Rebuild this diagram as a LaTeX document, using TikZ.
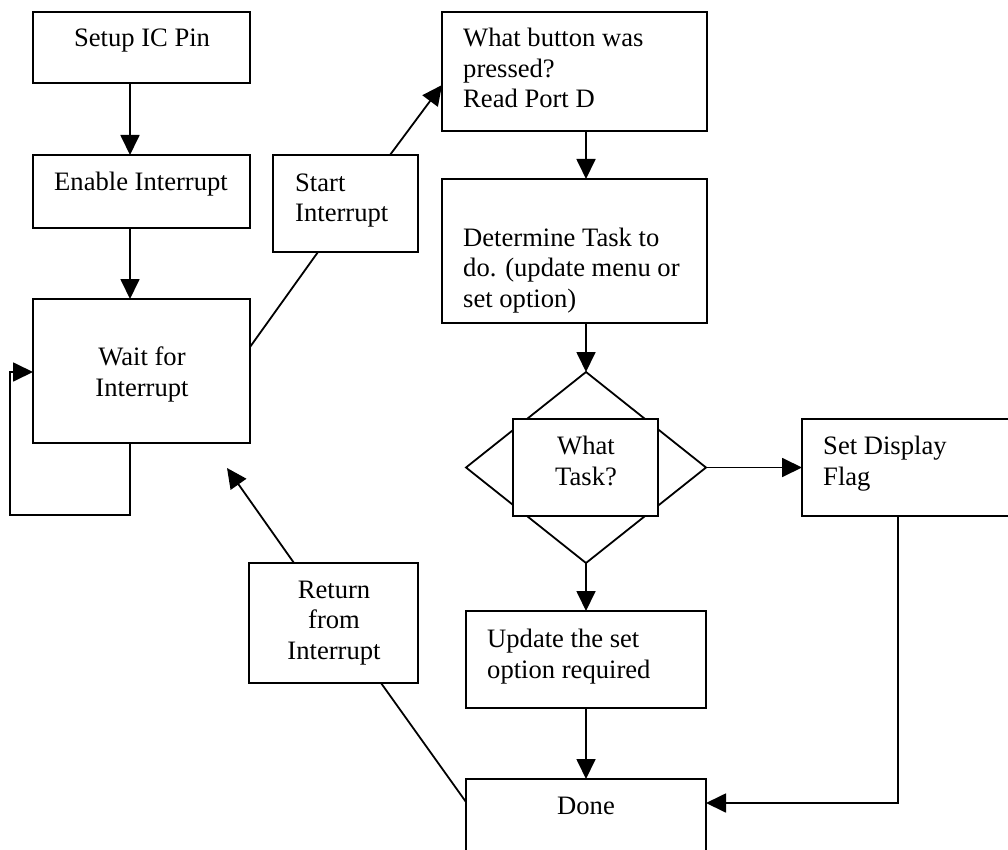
\documentclass[tikz,border=0pt]{standalone}
\usepackage{fontspec}
\setmainfont{Liberation Serif}
\usetikzlibrary{arrows.meta,calc,shapes.geometric}

\begin{document}
\begin{tikzpicture}[x=1pt,y=-1pt,
  box/.style={draw,line width=1.8pt,fill=white,inner sep=0pt,outer sep=0pt,anchor=north west,rectangle},
  lbl/.style={inner sep=0pt,font=\fontsize{26.6}{30.5}\selectfont},
  link/.style={line width=1.8pt},
  arr/.style={link,-{Triangle[length=20pt,width=19pt]}},
]
\useasboundingbox (0,0) rectangle (1008,850);
\clip (0,0) rectangle (1008,850);
\fill[white] (0,0) rectangle (1008,850);

% main loop column
\node[box,minimum width=217pt,minimum height=71pt]  (setup)  at (33,12)  {};
\node[box,minimum width=217pt,minimum height=73pt]  (enable) at (33,155) {};
\node[box,minimum width=217pt,minimum height=144pt] (wait)   at (33,299) {};

% interrupt entry / exit
\node[box,minimum width=145pt,minimum height=97pt]  (start)  at (273,155) {};
\node[box,minimum width=169pt,minimum height=120pt] (return) at (249,563) {};

% interrupt service routine
\node[box,minimum width=265pt,minimum height=119pt] (button)    at (442,12)  {};
\node[box,minimum width=265pt,minimum height=144pt] (determine) at (442,179) {};
\node[draw,diamond,line width=1.8pt,fill=white,inner sep=0pt,outer sep=0pt,
      minimum width=240pt,minimum height=191pt] (dia) at (586,467.5) {};
\node[box,minimum width=145pt,minimum height=97pt]  (task)    at (513,419) {};
\node[box,minimum width=240pt,minimum height=97pt]  (setdisp) at (802,419) {};
\node[box,minimum width=240pt,minimum height=97pt]  (update)  at (466,611) {};
\node[box,minimum width=240pt,minimum height=100pt] (done)    at (466,779) {};

% labels (multi-line labels are anchored on the baseline of their last line)
\node[lbl,anchor=base] (setupT)  at (142,47)  {Setup IC Pin};
\node[lbl,anchor=base] (enableT) at (141,191) {Enable Interrupt};
\node[lbl,anchor=base,align=center] (waitT) at (142,396) {Wait for\\Interrupt};
\node[lbl,anchor=base west,align=left] (startT) at (295,222) {Start\\Interrupt};
\node[lbl,anchor=base west,align=left] (buttonT) at (463,108) {What button was\\pressed?\\Read Port D};
\node[lbl,anchor=base west,align=left] (determineT) at (463,307) {Determine Task to\\do. (update menu or\\set option)};
\node[lbl,anchor=base,align=center] (taskT) at (586,485) {What\\Task?};
\node[lbl,anchor=base west,align=left] (setdispT) at (823,485) {Set Display\\Flag};
\node[lbl,anchor=base,align=center] (returnT) at (334,659) {Return\\from\\Interrupt};
\node[lbl,anchor=base west,align=left] (updateT) at (487,678) {Update the set\\option required};
\node[lbl,anchor=base] (doneT) at (586,814) {Done};

% connectors
\coordinate (loopcorner) at (10,515);
\coordinate (rettip) at (227,468);

\draw[arr] ($(setup.south west)+(97,0)$) -- ($(enable.north west)+(97,0)$);
\draw[arr] ($(enable.south west)+(97,0)$) -- ($(wait.north west)+(97,0)$);
\draw[arr] ($(wait.south west)+(97,0)$) |- (loopcorner) |- ($(wait.north west)+(0,73)$);
\draw[link] ($(wait.north east)+(0,48)$) -- ($(start.south west)+(45,0)$);
\draw[arr] ($(start.north west)+(117,0)$) -- ($(button.north west)+(0,73)$);
\draw[arr] ($(button.south west)+(144,0)$) -- ($(determine.north west)+(144,0)$);
\draw[arr] ($(determine.south west)+(144,0)$) -- (dia.north);
\draw[arr] (dia.east) -- (dia.east -| setdisp.west);
\draw[arr] (dia.south) -- (update.north);
\draw[arr] (update.south) -- (done.north);
\draw[arr] ($(setdisp.south west)+(96,0)$) |- ($(done.north east)+(0,24)$);
\draw[link] ($(return.south west)+(132,0)$) -- ($(done.north west)+(0,23)$);
\draw[arr] ($(return.north west)+(45,0)$) -- (rettip);
\end{tikzpicture}
\end{document}
